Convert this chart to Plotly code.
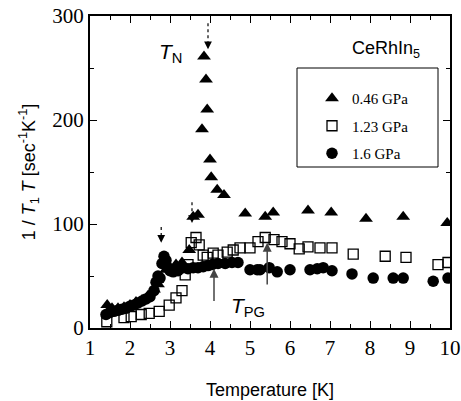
import plotly.graph_objects as go

# 0.46 GPa (triangles)
t_046 = [1.43, 1.55, 1.7, 1.85, 2.0, 2.15, 2.3, 2.45, 2.6, 2.7, 2.9, 3.15, 3.3, 3.48, 3.58, 3.7,
         3.8, 3.85, 3.9, 3.93, 4.0, 4.03, 4.18, 4.35, 4.88, 5.38, 5.58, 6.45, 7.03, 7.9, 8.83, 9.93]
v_046 = [22, 19, 19, 20, 22, 25, 27, 31, 37, 42, 56, 61, 63, 75, 107, 109,
         191, 261, 239, 210, 162, 145, 133, 128, 110, 107, 111, 113, 111, 105, 107, 101]

# 1.23 GPa (open squares)
t_123 = [1.42, 1.85, 2.03, 2.28, 2.48, 2.73, 2.98, 3.15, 3.3, 3.38, 3.45, 3.53, 3.65, 3.73, 3.83,
         3.93, 4.08, 4.2, 4.43, 4.58, 4.75, 5.0, 5.2, 5.38, 5.6, 5.8, 6.0, 6.23, 6.45, 6.75, 7.05,
         7.58, 8.38, 8.9, 9.7, 9.95]
v_123 = [6, 10, 11, 13, 14, 16, 22, 29, 36, 51, 61, 82, 87, 80, 70,
         68, 72, 70, 73, 75, 77, 77, 83, 87, 85, 83, 81, 76, 78, 77, 77,
         71, 69, 68, 61, 63]

# 1.6 GPa (filled circles)
t_16 = [1.4, 1.5, 1.6, 1.7, 1.8, 1.9, 2.0, 2.1, 2.2, 2.3, 2.4, 2.5, 2.6, 2.65, 2.7, 2.75, 2.8,
        2.85, 2.9, 2.95, 3.0, 3.08, 3.2, 3.33, 3.45, 3.58, 3.7, 3.83, 3.95, 4.05, 4.2, 4.38,
        4.55, 4.7, 5.0, 5.18, 5.25, 5.48, 5.68, 6.0, 6.5, 6.68, 6.83, 7.05, 7.55, 8.08, 8.58,
        8.83, 9.58, 9.95]
v_16 = [13, 15, 16, 17, 18, 19, 21, 22, 24, 26, 28, 30, 36, 44, 50, 48, 62,
        69, 65, 58, 55, 54, 55, 58, 57, 58, 58, 59, 60, 61, 62, 62,
        63, 63, 56, 56, 56, 58, 54, 56, 56, 57, 58, 55, 52, 48, 48,
        48, 45, 48]

x_ticks = [1, 2, 3, 4, 5, 6, 7, 8, 9, 10]
y_ticks = [0, 100, 200, 300]

# dotted arrows (T, from value, to value)
dot_T = [3.95, 3.55, 2.78]
dot_from = [293, 121, 97]
dot_to = [268, 101, 82]

# solid arrows (T, from value, to value)
arr_T = [4.1, 5.43]
arr_from = [24, 40]
arr_to = [57, 82]

fig = go.Figure()
fig.add_trace(go.Scatter(x=t_046, y=v_046, mode="markers", name="0.46 GPa", legendgroup="a",
                         marker=dict(symbol="triangle-up", size=12, color="black")))
fig.add_trace(go.Scatter(x=t_123, y=v_123, mode="markers", name="1.23 GPa", legendgroup="b",
                         marker=dict(symbol="square-open", size=10, color="black",
                                     line=dict(width=1.3, color="black"))))
fig.add_trace(go.Scatter(x=t_16, y=v_16, mode="markers", name="1.6 GPa", legendgroup="c",
                         marker=dict(symbol="circle", size=11.5, color="black")))

shapes = []
annotations = []
for T, a, b in zip(dot_T, dot_from, dot_to):
    shapes.append(dict(type="line", xref="x", yref="y", x0=T, x1=T, y0=a, y1=b + 4,
                       line=dict(color="black", width=1.2, dash="dot")))
    annotations.append(dict(x=T, y=b, xref="x", yref="y", ax=T, ay=b + 6, axref="x", ayref="y",
                            showarrow=True, arrowhead=2, arrowsize=1.3, arrowwidth=1.2,
                            arrowcolor="black", text=" ", font=dict(size=1)))
for T, a, b in zip(arr_T, arr_from, arr_to):
    annotations.append(dict(x=T, y=b, xref="x", yref="y", ax=T, ay=a, axref="x", ayref="y",
                            showarrow=True, arrowhead=2, arrowsize=1.2, arrowwidth=1.5,
                            arrowcolor="#444", text=" ", font=dict(size=1)))

annotations += [
    dict(x=3.0, y=264, xref="x", yref="y", showarrow=False,
         text="<i>T</i><sub>N</sub>", font=dict(family="Liberation Sans", size=21, color="black")),
    dict(x=4.95, y=20, xref="x", yref="y", showarrow=False,
         text="<i>T</i><sub>PG</sub>", font=dict(family="Liberation Sans", size=21, color="black")),
    dict(x=8.4, y=268, xref="x", yref="y", showarrow=False,
         text="CeRhIn<sub>5</sub>", font=dict(family="Liberation Sans", size=18, color="black")),
]

shapes.append(dict(type="rect", xref="paper", yref="paper",
                   x0=(297 - 90) / 360, x1=(438 - 90) / 360,
                   y0=(328 - 167) / 312, y1=(328 - 68) / 312,
                   line=dict(color="black", width=1), fillcolor="rgba(0,0,0,0)"))

axis_common = dict(showline=True, linecolor="black", linewidth=2, mirror="ticks",
                   ticks="inside", ticklen=7, tickwidth=1.3, tickcolor="black",
                   showgrid=False, zeroline=False, automargin=False,
                   ticklabeloverflow="allow",
                   tickfont=dict(family="Liberation Serif", size=21, color="black"))

fig.update_layout(
    width=461, height=401,
    margin=dict(l=90, r=11, t=16, b=73),
    plot_bgcolor="white", paper_bgcolor="white",
    xaxis=dict(range=[1, 10], tickvals=x_ticks,
               minor=dict(dtick=0.5, ticks="inside", ticklen=4, tickwidth=1.2, tickcolor="black"),
               title=dict(text="Temperature [K]", standoff=24,
                          font=dict(family="Liberation Sans", size=18, color="black")),
               **axis_common),
    yaxis=dict(range=[0, 300], tickvals=y_ticks,
               minor=dict(dtick=50, ticks="inside", ticklen=4, tickwidth=1.2, tickcolor="black"),
               title=dict(text="1 / <i>T</i><sub>1</sub> <i>T</i> [sec<sup>-1</sup>K<sup>-1</sup>]",
                          standoff=12,
                          font=dict(family="Liberation Sans", size=18, color="black")),
               **axis_common),
    showlegend=True,
    legend=dict(x=(312 - 90) / 360, y=(328 - 82) / 312, xanchor="left", yanchor="top",
                bgcolor="rgba(0,0,0,0)", borderwidth=0, tracegroupgap=5,
                font=dict(family="Liberation Serif", size=15, color="black")),
    shapes=shapes,
    annotations=annotations,
)

fig.write_html("out.html", config={"displayModeBar": False},
               post_script="document.body.style.margin='0';document.body.style.overflow='hidden';")
